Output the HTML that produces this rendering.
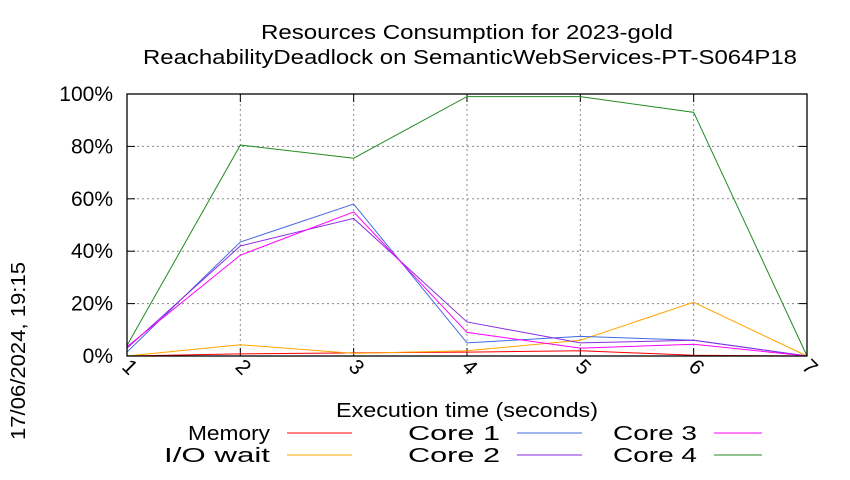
<!DOCTYPE html>
<html><head><meta charset="utf-8"><style>
body{margin:0;background:#fff}
svg{font-family:"Liberation Sans",sans-serif}
</style></head><body>
<svg id="c" width="850" height="475">
<text x="467" y="39" font-size="20" text-anchor="middle" textLength="412" lengthAdjust="spacingAndGlyphs">Resources Consumption for 2023-gold</text>
<text x="470" y="64" font-size="20" text-anchor="middle" textLength="654" lengthAdjust="spacingAndGlyphs">ReachabilityDeadlock on SemanticWebServices-PT-S064P18</text>
<text transform="translate(25,351) rotate(-90)" font-size="20" text-anchor="middle" textLength="178" lengthAdjust="spacingAndGlyphs">17/06/2024, 19:15</text>
<text x="467" y="417" font-size="20" text-anchor="middle" textLength="262" lengthAdjust="spacingAndGlyphs">Execution time (seconds)</text>
<g id="grid"></g><g id="series"></g><g id="legend"></g>
<rect x="127" y="94" width="680" height="262" fill="none" stroke="#000" stroke-width="1.3"/>
</svg>
<script>
const xTicks=[1,2,3,4,5,6,7];
const yTicks=[0,20,40,60,80,100];
const yTickLabels=["0%","20%","40%","60%","80%","100%"];
const seriesNames=["Memory","I/O wait","Core 1","Core 2","Core 3","Core 4"];
const seriesColors=["#ff0000","#ffa500","#4169e1","#8a2be2","#ff00ff","#228b22"];
const memory=[0,0.8,1.2,1.5,2,0.3,0];
const ioWait=[0,4.3,1,2,6,20.5,0];
const core1=[1.5,43.5,58,5,7.5,6,0];
const core2=[3,42,52.5,13,5,6,0];
const core3=[3.5,38.5,55,9,3,4.5,0];
const core4=[4,80.5,75.5,99,99,93,0];
const allSeries=[memory,ioWait,core1,core2,core3,core4];
const NS="http://www.w3.org/2000/svg";
const X=v=>127+(v-1)*(680/6), Y=v=>356-v*2.62;
function mk(t,a,p){const e=document.createElementNS(NS,t);for(const k in a)e.setAttribute(k,a[k]);p.appendChild(e);return e;}
const g=document.getElementById('grid');
yTicks.forEach((v,i)=>{
 if(v>0&&v<100){const l=mk('line',{x1:127,x2:807,y1:Y(v),y2:Y(v),stroke:'#888','stroke-dasharray':'2,3'},g);}
 mk('line',{x1:127,x2:135,y1:Y(v),y2:Y(v),stroke:'#000'},g);
 mk('line',{x1:799,x2:807,y1:Y(v),y2:Y(v),stroke:'#000'},g);
 const t=mk('text',{x:113,y:Y(v)+7,'font-size':21,'text-anchor':'end'},g);t.textContent=yTickLabels[i];
 
});
xTicks.forEach(v=>{
 if(v>1&&v<7){const l=mk('line',{x1:X(v),x2:X(v),y1:94,y2:356,stroke:'#888','stroke-dasharray':'2,3'},g);}
 mk('line',{x1:X(v),x2:X(v),y1:356,y2:348,stroke:'#000'},g);
 mk('line',{x1:X(v),x2:X(v),y1:94,y2:102,stroke:'#000'},g);
 const t=mk('text',{transform:`translate(${X(v)-2},${372}) rotate(45)`,'font-size':21,'text-anchor':'middle'},g);t.textContent=v;
 
});
const s=document.getElementById('series');
allSeries.forEach((d,i)=>{
 const p=mk('polyline',{points:d.map((v,j)=>X(xTicks[j])+','+Y(v)).join(' '),fill:'none',stroke:seriesColors[i],'stroke-width':1},s);
 
 
});
const lg=document.getElementById('legend');
const cols=[[270,287,352],[500,517,582],[697,714,762]];
const lens=[82,106,92,92,84,84];
seriesNames.forEach((n,i)=>{
 const c=cols[Math.floor(i/2)], y=i%2?455:433;
 const t=mk('text',{x:c[0],y:y+7,'font-size':20,'text-anchor':'end',textLength:lens[i],lengthAdjust:'spacingAndGlyphs'},lg);t.textContent=n;
 
 const l=mk('line',{x1:c[1],x2:c[2],y1:y,y2:y,stroke:seriesColors[i]},lg);
 
});
</script>
</body></html>
